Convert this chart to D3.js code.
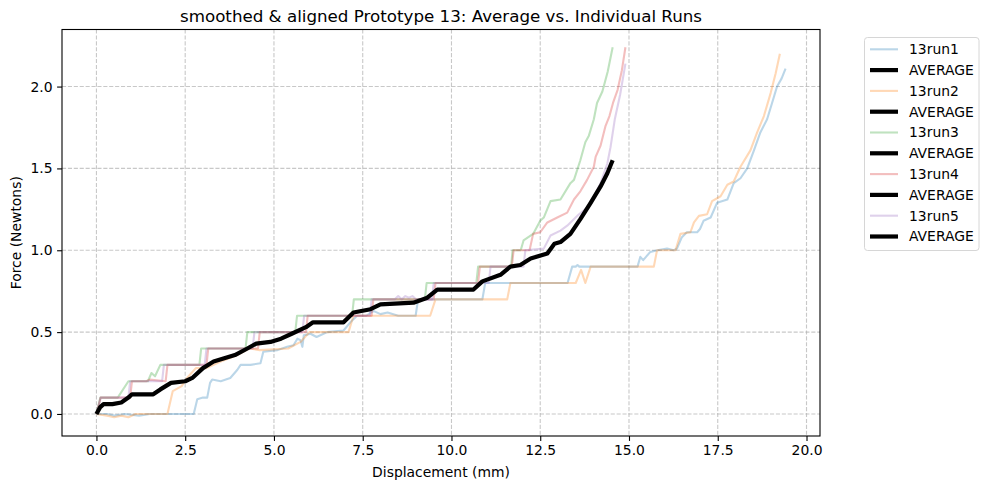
<!DOCTYPE html>
<html lang="en">
<head>
    <meta charset="UTF-8">
    <title>smoothed & aligned Prototype 13</title>
    <script src="https://d3js.org/d3.v7.min.js"></script>
    <style>
        body { margin: 0; background: #fff; }
        svg { display: block; font-family: "DejaVu Sans", sans-serif; }
        .grid line { stroke: #b0b0b0; stroke-opacity: 0.7; stroke-dasharray: 4.1, 1.8; stroke-width: 1.1; }
        .axis path, .axis line { stroke: #000; stroke-width: 1.1; }
        .axis text { font-size: 13.9px; fill: #000; }
    </style>
</head>
<body>
<script>
    // data (displacement mm, force N)
    const run1 = [[0,0],[0.3,0],[0.5,-0.01],[0.8,0],[1.2,-0.01],[1.5,0],[2.74,0],[2.84,0.09],[3.0,0.1],[3.12,0.1],[3.2,0.19],[3.26,0.21],[3.5,0.2],[3.77,0.22],[3.97,0.27],[4.06,0.3],[4.34,0.3],[4.62,0.31],[4.7,0.38],[5.1,0.39],[5.37,0.41],[5.55,0.42],[5.66,0.46],[5.75,0.45],[5.8,0.41],[5.84,0.48],[6.03,0.49],[6.2,0.47],[6.5,0.5],[6.96,0.51],[7.15,0.56],[7.34,0.6],[7.6,0.6],[7.8,0.63],[8.0,0.61],[8.2,0.62],[8.5,0.6],[8.99,0.6],[9.06,0.7],[10.87,0.7],[10.95,0.8],[13.27,0.8],[13.4,0.9],[13.5,0.9],[13.55,0.91],[13.6,0.9],[15.24,0.9],[15.32,0.96],[15.4,0.94],[15.6,0.99],[15.8,1.0],[16.07,1.01],[16.26,1.0],[16.35,1.01],[16.49,1.08],[16.63,1.11],[16.92,1.11],[17.0,1.13],[17.1,1.18],[17.3,1.2],[17.48,1.29],[17.77,1.31],[17.95,1.41],[18.14,1.44],[18.33,1.5],[18.52,1.61],[18.7,1.72],[18.89,1.8],[19.03,1.9],[19.17,2.0],[19.3,2.05],[19.41,2.11]];
    const run2 = [[0,0],[0.3,-0.01],[0.5,-0.02],[0.7,-0.01],[0.9,-0.02],[1.1,0],[2.0,0],[2.15,0.14],[2.4,0.17],[2.55,0.22],[2.8,0.28],[3.1,0.28],[3.3,0.3],[3.5,0.32],[3.97,0.36],[4.3,0.4],[4.6,0.39],[5.4,0.4],[5.75,0.44],[6.0,0.5],[7.1,0.5],[7.24,0.6],[9.4,0.6],[9.55,0.7],[11.57,0.7],[11.66,0.8],[13.5,0.8],[13.65,0.88],[13.77,0.8],[13.92,0.9],[15.7,0.9],[15.79,1.0],[16.31,1.0],[16.45,1.1],[16.73,1.11],[16.83,1.17],[16.97,1.21],[17.2,1.22],[17.34,1.3],[17.58,1.33],[17.77,1.4],[17.95,1.42],[18.14,1.51],[18.42,1.61],[18.61,1.72],[18.8,1.82],[18.99,1.96],[19.13,2.08],[19.25,2.2]];
    const run3 = [[0,0],[0.11,0.1],[0.6,0.1],[0.9,0.2],[1.45,0.2],[1.55,0.25],[1.65,0.23],[1.8,0.3],[2.9,0.3],[2.95,0.4],[4.2,0.4],[4.25,0.5],[5.6,0.5],[5.65,0.6],[7.2,0.6],[7.25,0.7],[9.25,0.7],[9.3,0.8],[10.7,0.8],[10.75,0.9],[11.68,0.9],[11.72,1.0],[11.95,1.0],[12.03,1.06],[12.3,1.1],[12.5,1.18],[12.6,1.2],[12.79,1.3],[13.07,1.31],[13.35,1.41],[13.45,1.43],[13.63,1.55],[13.77,1.66],[13.87,1.7],[14.01,1.8],[14.1,1.9],[14.25,1.97],[14.4,2.09],[14.54,2.24]];
    const run4 = [[0,0],[0.12,0.1],[0.95,0.1],[1.0,0.2],[1.4,0.2],[1.5,0.21],[1.95,0.2],[2.0,0.3],[3.1,0.3],[3.15,0.4],[4.55,0.4],[4.6,0.5],[5.9,0.5],[5.95,0.6],[7.75,0.6],[7.8,0.7],[9.5,0.7],[9.55,0.8],[10.75,0.8],[10.8,0.9],[11.7,0.9],[11.75,1.0],[12.2,1.0],[12.3,1.1],[12.5,1.11],[12.7,1.17],[12.98,1.2],[13.26,1.23],[13.45,1.31],[13.63,1.36],[13.82,1.43],[14.01,1.51],[14.06,1.57],[14.2,1.64],[14.34,1.76],[14.45,1.82],[14.55,1.9],[14.68,1.98],[14.8,2.1],[14.9,2.24]];
    const run5 = [[0,0],[0.12,0.1],[0.9,0.1],[0.95,0.2],[1.85,0.2],[1.9,0.3],[3.05,0.3],[3.1,0.4],[4.4,0.4],[4.45,0.5],[5.8,0.5],[5.85,0.6],[7.7,0.6],[7.75,0.7],[8.4,0.7],[8.5,0.72],[8.6,0.7],[8.7,0.72],[8.8,0.71],[8.9,0.72],[9.0,0.7],[9.45,0.7],[9.5,0.8],[11.05,0.8],[11.1,0.9],[12.03,0.9],[12.08,1.0],[12.6,1.01],[12.79,1.09],[13.07,1.12],[13.26,1.15],[13.54,1.21],[13.82,1.26],[14.01,1.33],[14.2,1.41],[14.39,1.53],[14.48,1.63],[14.6,1.8],[14.75,1.95],[14.9,2.14]];
    const average = [[0,0],[0.1,0.04],[0.2,0.06],[0.45,0.06],[0.7,0.07],[0.9,0.1],[1.0,0.12],[1.6,0.12],[1.8,0.15],[2.1,0.19],[2.5,0.2],[2.7,0.22],[3.0,0.28],[3.3,0.32],[3.6,0.34],[3.9,0.36],[4.25,0.4],[4.5,0.43],[4.9,0.44],[5.2,0.46],[5.5,0.49],[5.9,0.53],[6.1,0.56],[6.96,0.56],[7.24,0.62],[7.72,0.64],[8.0,0.67],[8.93,0.68],[9.32,0.71],[9.6,0.76],[10.62,0.76],[10.87,0.81],[11.38,0.85],[11.66,0.9],[11.94,0.91],[12.23,0.95],[12.7,0.98],[12.9,1.04],[13.07,1.05],[13.35,1.1],[13.63,1.19],[13.92,1.29],[14.2,1.39],[14.39,1.47],[14.54,1.55]];

    const runNames = ["13run1", "13run2", "13run3", "13run4", "13run5"];
    const runColors = ["#1f77b4", "#ff7f0e", "#2ca02c", "#d62728", "#9467bd"];
    const runs = [run1, run2, run3, run4, run5];
    const xTicks = [0, 2.5, 5, 7.5, 10, 12.5, 15, 17.5, 20];
    const yTicks = [0, 0.5, 1, 1.5, 2];

    const width = 989, height = 490;
    const margin = { top: 29.5, right: 169, bottom: 54, left: 62 };

    const svg = d3.select("body").append("svg")
        .attr("width", width)
        .attr("height", height);

    // scales (matplotlib style 5% padding)
    const x = d3.scaleLinear().domain([-0.97, 20.38]).range([margin.left, width - margin.right]);
    const y = d3.scaleLinear().domain([-0.1346, 2.3486]).range([height - margin.bottom, margin.top]);

    // grid
    svg.append("g").attr("class", "grid")
        .selectAll("line").data(xTicks).enter().append("line")
        .attr("x1", d => x(d)).attr("x2", d => x(d))
        .attr("y1", margin.top).attr("y2", height - margin.bottom);
    svg.append("g").attr("class", "grid")
        .selectAll("line").data(yTicks).enter().append("line")
        .attr("y1", d => y(d)).attr("y2", d => y(d))
        .attr("x1", margin.left).attr("x2", width - margin.right);

    const line = d3.line().x(d => x(d[0])).y(d => y(d[1]));

    const plot = svg.append("g");
    runs.forEach((r, i) => {
        plot.append("path")
            .datum(r)
            .attr("d", line)
            .attr("fill", "none")
            .attr("stroke", runColors[i])
            .attr("stroke-opacity", 0.3)
            .attr("stroke-width", 2.1)
            .attr("stroke-linejoin", "round");
    });
    plot.append("path")
        .datum(average)
        .attr("d", line)
        .attr("fill", "none")
        .attr("stroke", "#000")
        .attr("stroke-width", 4.2)
        .attr("stroke-linejoin", "round");

    // axes
    svg.append("g").attr("class", "axis")
        .attr("transform", `translate(0,${height - margin.bottom})`)
        .call(d3.axisBottom(x).tickValues(xTicks).tickFormat(d3.format(".1f")).tickSize(4.9).tickPadding(4.5))
        .call(g => g.select(".domain").remove());
    svg.append("g").attr("class", "axis")
        .attr("transform", `translate(${margin.left},0)`)
        .call(d3.axisLeft(y).tickValues(yTicks).tickFormat(d3.format(".1f")).tickSize(4.9).tickPadding(4.5))
        .call(g => g.select(".domain").remove());
    svg.selectAll(".axis text").attr("font-family", "DejaVu Sans");

    // frame
    svg.append("rect")
        .attr("x", margin.left).attr("y", margin.top)
        .attr("width", width - margin.right - margin.left)
        .attr("height", height - margin.bottom - margin.top)
        .attr("fill", "none").attr("stroke", "#000").attr("stroke-width", 1.1);

    // title and labels
    svg.append("text")
        .attr("x", (margin.left + width - margin.right) / 2).attr("y", 21.5)
        .attr("text-anchor", "middle").attr("font-size", "16.7px")
        .text("smoothed & aligned Prototype 13: Average vs. Individual Runs");
    svg.append("text")
        .attr("x", (margin.left + width - margin.right) / 2).attr("y", 477)
        .attr("text-anchor", "middle").attr("font-size", "13.9px")
        .text("Displacement (mm)");
    svg.append("text")
        .attr("transform", `translate(21,${(margin.top + height - margin.bottom) / 2}) rotate(-90)`)
        .attr("text-anchor", "middle").attr("font-size", "13.9px")
        .text("Force (Newtons)");

    // legend
    const legendItems = [];
    runNames.forEach((n, i) => {
        legendItems.push({ name: n, color: runColors[i], opacity: 0.3, w: 2.1 });
        legendItems.push({ name: "AVERAGE", color: "#000", opacity: 1, w: 4.2 });
    });
    const legend = svg.append("g");
    legend.append("rect")
        .attr("x", 864.5).attr("y", 37.5).attr("width", 114.5).attr("height", 213)
        .attr("rx", 3).attr("fill", "#fff").attr("fill-opacity", 0.8)
        .attr("stroke", "#d6d6d6").attr("stroke-width", 1);
    const rows = legend.selectAll("g.item").data(legendItems).enter().append("g")
        .attr("transform", (d, i) => `translate(0,${49.3 + i * 20.8})`);
    rows.append("line")
        .attr("x1", 870).attr("x2", 898)
        .attr("stroke", d => d.color).attr("stroke-opacity", d => d.opacity)
        .attr("stroke-width", d => d.w);
    rows.append("text")
        .attr("x", 909).attr("y", 4.9)
        .attr("font-size", "13.9px")
        .text(d => d.name);
</script>
</body>
</html>
